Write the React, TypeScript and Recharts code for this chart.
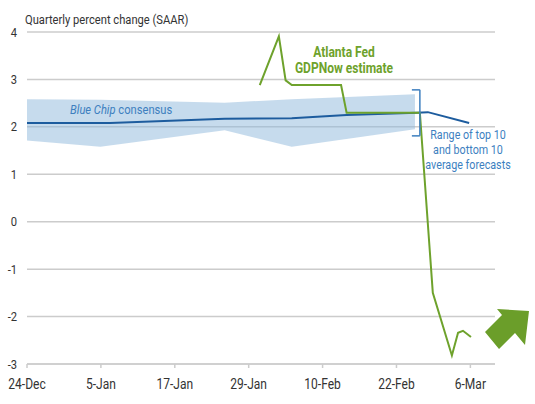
import React from 'react';
import {
  ComposedChart,
  Line,
  Area,
  XAxis,
  YAxis,
  CartesianGrid,
  ReferenceLine,
} from 'recharts';

// x values are days since 24-Dec
const tickDays = [0, 12, 24, 36, 48, 60, 72];
const tickLabels = ['24-Dec', '5-Jan', '17-Jan', '29-Jan', '10-Feb', '22-Feb', '6-Mar'];
const yTicks = [-3, -2, -1, 0, 1, 2, 3, 4];

const blueChipDays = [0, 13.5, 32.1, 43, 51.9, 63.3, 65.1, 71.8];
const blueChipValues = [2.08, 2.08, 2.17, 2.18, 2.25, 2.3, 2.31, 2.08];

const rangeDays = [0, 11.9, 32.1, 43, 63];
const rangeLow = [1.71, 1.58, 1.93, 1.58, 1.95];
const rangeHigh = [2.58, 2.57, 2.51, 2.58, 2.69];

const gdpNowDays = [37.8, 40.9, 42, 43, 51, 51.9, 63.8, 65.9, 69, 70, 70.8, 72.1];
const gdpNowValues = [2.88, 3.91, 2.98, 2.88, 2.88, 2.3, 2.3, -1.5, -2.82, -2.34, -2.3, -2.43];

const blueChipData = blueChipDays.map((d, i) => ({ day: d, value: blueChipValues[i] }));
const rangeData = rangeDays.map((d, i) => ({ day: d, range: [rangeLow[i], rangeHigh[i]] }));
const gdpNowData = gdpNowDays.map((d, i) => ({ day: d, value: gdpNowValues[i] }));

const FONT = 'Roboto, sans-serif';
const NARROW = 0.86; // the source uses a condensed face
const GREEN = '#6ea22c';
const BLUE = '#1d5c9e';
const LABEL_BLUE = '#3d7fbf';

// condensed text: squeeze glyphs horizontally around the anchor point
function CText({ x, y, anchor = 'start', children, ...rest }: any) {
  return (
    <g transform={`translate(${x},${y}) scale(${NARROW},1)`}>
      <text x={0} y={0} textAnchor={anchor} {...rest}>
        {children}
      </text>
    </g>
  );
}

function XTick({ x, y, payload }: any) {
  return (
    <CText x={x} y={y + 19} anchor="middle" fontSize={14} fill="#333" fontFamily={FONT}>
      {tickLabels[tickDays.indexOf(payload.value)]}
    </CText>
  );
}

function YTick({ x, y, payload }: any) {
  return (
    <CText x={17} y={y + 4.5} anchor="end" fontSize={13} fill="#333" fontFamily={FONT}>
      {payload.value}
    </CText>
  );
}

export default function App() {
  return (
    <div style={{ position: 'absolute', left: 0, top: 0, width: 535, height: 404, background: '#fff' }}>
      <ComposedChart
        width={535}
        height={404}
        margin={{ top: 32, right: 40, bottom: 10, left: 0 }}
        style={{ fontFamily: FONT }}
      >
        <CartesianGrid horizontal vertical={false} stroke="#cccccc" strokeWidth={1.5} />
        <XAxis
          type="number"
          dataKey="day"
          domain={[0, 76]}
          ticks={tickDays}
          height={30}
          stroke="#cccccc"
          strokeWidth={1.5}
          tickSize={4}
          tick={<XTick />}
          allowDuplicatedCategory={false}
        />
        <YAxis
          type="number"
          domain={[-3, 4]}
          ticks={yTicks}
          width={27}
          axisLine={false}
          tickLine={false}
          tick={<YTick />}
        />
        <Area
          data={rangeData}
          dataKey="range"
          type="linear"
          stroke="none"
          fill="#8db8dc"
          fillOpacity={0.5}
          isAnimationActive={false}
        />
        <Line
          data={blueChipData}
          dataKey="value"
          type="linear"
          stroke={BLUE}
          strokeWidth={2}
          dot={false}
          isAnimationActive={false}
        />
        <Line
          data={gdpNowData}
          dataKey="value"
          type="linear"
          stroke={GREEN}
          strokeWidth={2}
          dot={false}
          isAnimationActive={false}
        />
        {/* bracket marking the range */}
        <ReferenceLine segment={[{ x: 62.5, y: 2.78 }, { x: 63.8, y: 2.78 }]} stroke={LABEL_BLUE} strokeWidth={1.5} />
        <ReferenceLine segment={[{ x: 63.8, y: 2.78 }, { x: 63.8, y: 1.81 }]} stroke={LABEL_BLUE} strokeWidth={1.5} />
        <ReferenceLine segment={[{ x: 62.5, y: 1.81 }, { x: 63.8, y: 1.81 }]} stroke={LABEL_BLUE} strokeWidth={1.5} />
      </ComposedChart>
      <svg
        width={535}
        height={404}
        style={{ position: 'absolute', left: 0, top: 0, pointerEvents: 'none', fontFamily: FONT }}
      >
        <CText x={25} y={24} fontSize={13} fill="#333">Quarterly percent change (SAAR)</CText>
        <CText x={70} y={114} fontSize={13} fill={LABEL_BLUE}>
          <tspan fontStyle="italic">Blue Chip</tspan> consensus
        </CText>
        <CText x={344} y={56.5} anchor="middle" fontSize={14} fontWeight="bold" fill={GREEN}>Atlanta Fed</CText>
        <CText x={344} y={72.5} anchor="middle" fontSize={14} fontWeight="bold" fill={GREEN}>GDPNow estimate</CText>
        <CText x={468} y={139} anchor="middle" fontSize={12.5} fill={LABEL_BLUE}>Range of top 10</CText>
        <CText x={468} y={154} anchor="middle" fontSize={12.5} fill={LABEL_BLUE}>and bottom 10</CText>
        <CText x={468} y={168.5} anchor="middle" fontSize={12.5} fill={LABEL_BLUE}>average forecasts</CText>
        <polygon
          points="529,311 497,309 502,315 485,332 499,349 515,333 525,345"
          fill="#6b9e2a"
        />
      </svg>
    </div>
  );
}
